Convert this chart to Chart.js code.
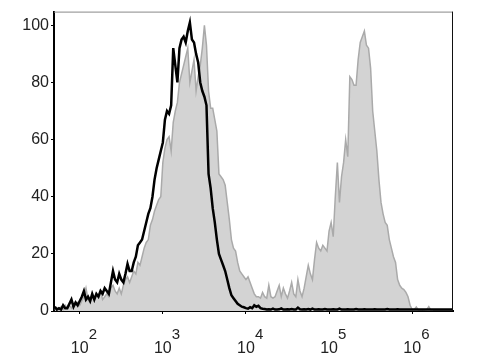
<!DOCTYPE html>
<html>
<head>
<meta charset="utf-8">
<script src="https://cdn.jsdelivr.net/npm/chart.js@4"></script>
<style>
  html, body { margin: 0; padding: 0; background: #fff; }
  #myChart { display: block; }
</style>
</head>
<body>
<canvas id="myChart" width="480" height="360"></canvas>
<script>
// histogram bins, evenly spaced on the log10 channel axis
const logStart = 1.7;
const logStep = 0.025;

// black line (control)
const blackCounts = [
  1.5, 0.5, 1, 0.5, 2, 1, 1, 2.5, 4, 1.5,
  3, 2, 3.5, 5, 7, 4, 5, 3.5, 6, 4,
  6, 5, 7, 6, 8, 7, 6, 10, 14, 11,
  10, 13, 11, 10, 13, 16.5, 14, 14, 17, 19,
  23, 24, 25, 28, 31, 34, 36, 40, 46, 50,
  53, 56, 59, 67, 70, 69, 72, 92, 86, 80,
  92, 95, 96, 94, 98, 101, 95, 94, 90, 87,
  80, 77, 75, 72, 48, 43, 36, 31, 25, 20,
  18, 16, 14, 11, 8, 5.5, 4.5, 3.5, 2.5, 2,
  1.5, 1.3, 1, 0.8, 1.3, 1, 2, 1.5, 1.8, 1,
  0.8, 0.7, 0.5, 0.6, 0.5, 0.8, 0.5, 0.5, 0.6, 0.9,
  0.5, 0.5, 0.6, 0.5, 0.7, 0.5, 0.5, 1.2, 0.6, 0.5,
  0.6, 0.5, 0.7, 0.5, 0.8, 0.5, 0.5, 0.6, 0.5, 0.5,
  0.7, 0.5, 0.5, 0.5, 0.6, 0.5, 0.5, 0.8, 0.5, 0.5,
  0.5, 0.6, 0.5, 0.5, 0.5, 0.7, 0.5, 0.5, 0.5, 0.6,
  0.5, 0.5, 0.5, 0.5, 0.6, 0.5, 0.5, 0.5, 0.5, 0.5,
  0.7, 0.5, 0.5, 0.5, 0.5, 0.6, 0.5, 0.5, 0.5, 0.5,
  0.5, 0.5, 0.5, 0.5, 0.5, 0.5, 0.5, 0.5, 0.5, 0.5,
  0.5, 0.5, 0.5, 0.5, 0.5, 0.5, 0.5, 0.5, 0.5, 0.5,
  0.5, 0.5, 0.5
];

// gray filled histogram (stained)
const grayCounts = [
  0.5, 1, 0.5, 1.5, 0.5, 2, 1, 2, 1, 2.5,
  2, 3, 2, 3.5, 5, 8, 4, 3, 5, 4,
  6, 5, 7, 4, 5, 6, 5, 8, 9, 7,
  6, 8, 6, 9, 11, 12, 10, 12, 14, 13,
  17, 16, 19, 22, 24, 25, 30, 32, 35, 37,
  39, 40, 52, 57, 60, 61, 56, 66, 70, 73,
  80, 83, 86, 89, 92, 80, 84, 88, 77, 82,
  86, 92, 100, 93, 77, 71, 71, 67, 63, 48,
  47, 46, 44, 38, 32, 25, 22, 21, 17, 14,
  13, 12, 11, 12, 10, 8, 6, 5, 5, 4.5,
  6.5, 5, 4.5, 9, 5, 4.5, 5, 7, 9, 5,
  8, 6, 4.5, 7, 10, 6, 5, 11, 7, 5,
  8, 12, 16, 13, 11, 18, 24, 22, 21, 23,
  22, 21, 28, 31, 26, 40, 52, 38, 47, 52,
  60, 54, 82, 81, 79, 79, 88, 94, 96, 98,
  93, 92, 85, 70, 63, 56, 46, 38, 34, 31,
  30, 25, 22, 19, 17, 11, 9, 8, 7.5, 6.5,
  5, 2, 0.5, 0.5, 1.4, 0.3, 0.2, 0, 0.3, 0.5,
  1.5, 0.3, 0, 0, 0, 0, 0, 0, 0, 0,
  0, 0, 0
];

const tickExponents = [2, 3, 4, 5, 6];
const yTicks = [0, 20, 40, 60, 80, 100];

const channels = blackCounts.map((_, i) => Math.pow(10, logStart + i * logStep));
const blackPoints = channels.map((c, i) => ({ x: c, y: blackCounts[i] }));
const grayPoints = channels.map((c, i) => ({ x: c, y: grayCounts[i] }));

const fontFam = "'Liberation Sans', Arial, sans-serif";

// top/right frame + "10^n" labels under the x axis
const framePlugin = {
  id: 'frame',
  afterDraw(chart) {
    const ctx = chart.ctx;
    const a = chart.chartArea;
    const xs = chart.scales.x;
    ctx.save();
    ctx.lineWidth = 1;
    ctx.beginPath();
    ctx.strokeStyle = '#888';
    ctx.moveTo(a.left, a.top + 0.5);
    ctx.lineTo(a.right - 0.5, a.top + 0.5);
    ctx.stroke();
    ctx.beginPath();
    ctx.strokeStyle = '#111';
    ctx.moveTo(a.right - 0.5, a.top);
    ctx.lineTo(a.right - 0.5, a.bottom);
    ctx.stroke();

    ctx.fillStyle = '#222';
    for (const e of tickExponents) {
      const px = xs.getPixelForValue(Math.pow(10, e));
      ctx.font = '16px ' + fontFam;
      ctx.textAlign = 'center';
      ctx.textBaseline = 'alphabetic';
      ctx.fillText('10', px, 353);
      ctx.textAlign = 'left';
      ctx.font = '15px ' + fontFam;
      ctx.fillText(String(e), px + 9, 339);
    }
    ctx.restore();
  }
};

const ctx = document.getElementById('myChart').getContext('2d');
const myChart = new Chart(ctx, {
  type: 'line',
  data: {
    datasets: [
      {
        label: 'control',
        data: blackPoints,
        borderColor: '#000',
        borderWidth: 2.5,
        pointRadius: 0,
        fill: false,
        tension: 0
      },
      {
        label: 'sample',
        data: grayPoints,
        borderColor: '#aaaaaa',
        backgroundColor: '#d3d3d3',
        borderWidth: 1.5,
        pointRadius: 0,
        fill: 'origin',
        tension: 0
      }
    ]
  },
  options: {
    responsive: false,
    devicePixelRatio: 1,
    animation: false,
    layout: { padding: { left: 0, top: 6, right: 27, bottom: 0 } },
    plugins: {
      legend: { display: false },
      tooltip: { enabled: false }
    },
    scales: {
      x: {
        type: 'logarithmic',
        min: 49,
        max: 3.1e6,
        afterFit(scale) { scale.height = 49; },
        afterBuildTicks(scale) {
          scale.ticks = tickExponents.map(e => ({ value: Math.pow(10, e) }));
        },
        ticks: { display: false },
        grid: { display: true, drawOnChartArea: false, drawTicks: true, tickLength: 3, color: '#000' },
        border: { display: true, color: '#000', width: 2 }
      },
      y: {
        min: 0,
        max: 104.8,
        afterFit(scale) { scale.width = 54; },
        afterBuildTicks(scale) {
          scale.ticks = yTicks.map(v => ({ value: v }));
        },
        ticks: {
          color: '#222',
          padding: 2,
          font: { family: fontFam, size: 16 }
        },
        grid: { display: true, drawOnChartArea: false, drawTicks: true, tickLength: 3, color: '#000' },
        border: { display: true, color: '#000', width: 2 }
      }
    }
  },
  plugins: [framePlugin]
});
</script>
</body>
</html>
